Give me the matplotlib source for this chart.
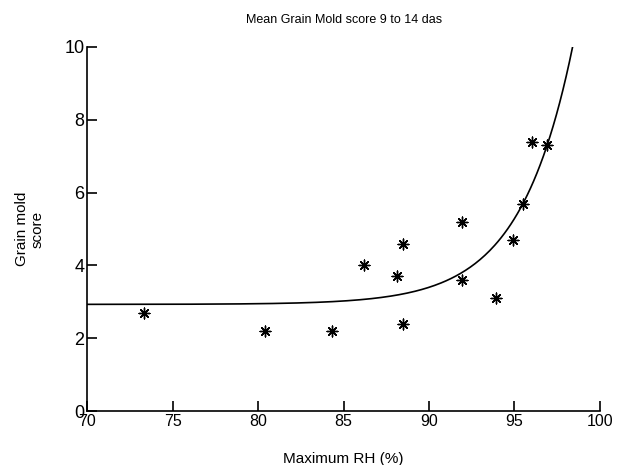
import numpy as np
import matplotlib.pyplot as plt

plt.rcParams['font.family'] = ['Liberation Sans', 'DejaVu Sans']

# observed points (max RH %, grain mold score)
rh = [73.3, 80.4, 84.3, 86.2, 88.1, 88.5, 88.5, 91.9, 91.9, 93.9, 94.9, 95.5, 96.0, 96.9]
score = [2.7, 2.2, 2.2, 4.0, 3.7, 4.6, 2.4, 5.2, 3.6, 3.1, 4.7, 5.7, 7.4, 7.3]

# fitted curve y = a + b*exp(c*(x-100)), range of the fit line
fit_a, fit_b, fit_c = 2.93, 11.86, 0.323
fit_range = (70, 98.4)

xticks = [70, 75, 80, 85, 90, 95, 100]
yticks = [0, 2, 4, 6, 8, 10]

fig = plt.figure(figsize=(6.23, 4.65), dpi=100)
ax = fig.add_axes([0.14, 0.116, 0.823, 0.783])

xs = np.linspace(fit_range[0], fit_range[1], 300)
ax.plot(xs, fit_a + fit_b * np.exp(fit_c * (xs - 100)), color='black', lw=1.2)
ax.scatter(rh, score, marker=(8, 2, 0), s=60, color='black', linewidths=1.0, zorder=3)

ax.set_xlim(70, 100)
ax.set_ylim(0, 10)
ax.set_xticks(xticks)
ax.set_yticks(yticks)
ax.spines['top'].set_visible(False)
ax.spines['right'].set_visible(False)
ax.spines['left'].set_linewidth(1.2)
ax.spines['bottom'].set_linewidth(1.2)
ax.tick_params(direction='in', length=7, width=1.2, pad=2)
ax.tick_params(axis='x', labelsize=11.5)
ax.tick_params(axis='y', labelsize=13)

ax.set_title('Mean Grain Mold score 9 to 14 das', fontsize=9, pad=17)
ax.set_xlabel('Maximum RH (%)', fontsize=11, labelpad=17)
ax.set_ylabel('Grain mold\nscore', fontsize=11, labelpad=14)

plt.savefig('out.png')
